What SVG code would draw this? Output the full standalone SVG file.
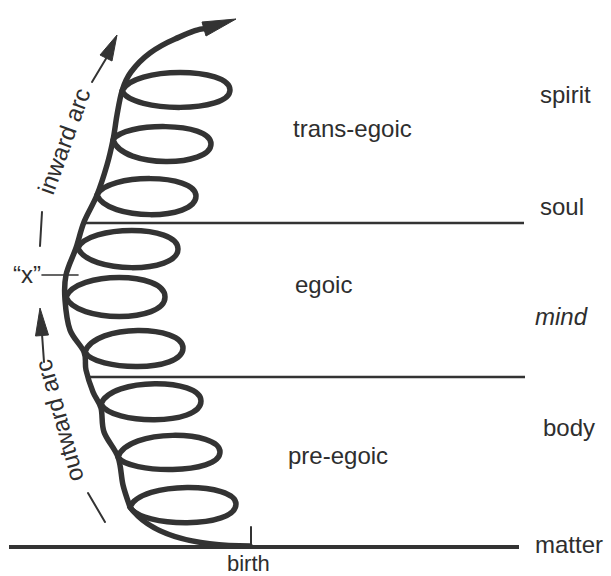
<svg xmlns="http://www.w3.org/2000/svg" width="611" height="576" viewBox="0 0 611 576">
<defs>
<style>
.t{font-family:"Liberation Sans",Arial,Helvetica,sans-serif;font-size:24px;fill:#2e2e2e}
.sp{fill:none;stroke:#333;stroke-width:5.5;stroke-linecap:round;stroke-linejoin:round}
.ln{fill:none;stroke:#333;stroke-width:2.5;stroke-linecap:butt}
.thin{fill:none;stroke:#333;stroke-width:2;stroke-linecap:round}
.ah{fill:#333;stroke:#333;stroke-width:1;stroke-linejoin:round}
</style>
</defs>
<rect width="611" height="576" fill="#fff"/>
<g id="levels">
<line class="ln" x1="82" y1="223" x2="524" y2="223"/>
<line class="ln" x1="87" y1="377" x2="525" y2="377"/>
<line class="ln" x1="9" y1="547" x2="519" y2="547" style="stroke-width:4"/>
<line class="thin" x1="251" y1="527" x2="251" y2="547"/>
</g>
<g id="spiral">
<path class="sp" d="M250,546 C195,546 150,535 130,507"/>
<path class="sp" d="M130,507 C128.8,503.3 125,493.3 123,485 C121,476.7 121.2,465.8 118,457 C114.8,448.2 106.8,440.2 104,432 C101.2,423.8 102.8,414.7 101,408 C99.2,401.3 95.5,398.3 93,392 C90.5,385.7 87.5,376.7 86,370 C84.5,363.3 86.7,358.7 84,352 C81.3,345.3 73.2,338.7 70,330 C66.8,321.3 65.7,309.2 65,300 C64.3,290.8 64.2,283.7 66,275 C67.8,266.3 73,256.8 76,248 C79,239.2 80.5,230.8 84,222 C87.5,213.2 93.2,204.5 97,195 C100.8,185.5 104.3,174.2 107,165 C109.7,155.8 111.3,148.3 113,140 C114.7,131.7 115.5,123.2 117,115 C118.5,106.8 119.8,98.2 122,91 C124.2,83.8 126.3,78.3 131,72 C135.7,65.7 142.5,58.5 150,53 C157.5,47.5 165.8,43 175,39 C184.2,35 200,27.3 205,29"/>
<path class="sp" d="M122,91 C133,66 230,67 230,90 C230,113 133,113 122,91 Z"/>
<path class="sp" d="M113,140 C123,122 211,121 211,144 C211,167 123,169 113,140 Z"/>
<path class="sp" d="M97,195 C107,173 196,173 196,196 C196,221 107,221 97,195 Z"/>
<path class="sp" d="M78,248 C88,225 178,224 178,249 C178,274 88,274 78,248 Z"/>
<path class="sp" d="M66,297 C76,271 165,271 165,297 C165,323 76,323 66,297 Z"/>
<path class="sp" d="M85,352 C95,323 183,325 183,348 C183,373 95,371 85,352 Z"/>
<path class="sp" d="M101,404 C111,377 201,378 201,401 C201,426 111,425 101,404 Z"/>
<path class="sp" d="M118,457 C128,428 220,430 220,452 C220,475 128,474 118,457 Z"/>
<path class="sp" d="M130,507 C141,481 236,482 236,504 C236,529 141,528 130,507 Z"/>
<polygon class="ah" points="236,19 206,36 202,22"/>
</g>
<g id="inward-arc">
<line class="thin" x1="42" y1="212" x2="40" y2="246"/>
<line class="thin" x1="92" y1="82" x2="107" y2="57"/>
<polygon class="ah" points="117,35 112,61 100,55"/>
<text class="t" transform="translate(53,196) rotate(-70)">inward arc</text>
</g>
<g id="outward-arc">
<line class="thin" x1="88" y1="493" x2="105" y2="522"/>
<line class="thin" x1="44" y1="362" x2="42" y2="334"/>
<polygon class="ah" points="40,308 48.5,335 35.5,336"/>
<text class="t" transform="translate(84,479) rotate(-105.5)">outward arc</text>
</g>
<g id="x-mark">
<line class="thin" x1="42" y1="275" x2="78" y2="275" style="stroke-width:1.6"/>
<text class="t" x="13" y="283">“x”</text>
</g>
<g id="zones">
<text class="t" x="293" y="137">trans-egoic</text>
<text class="t" x="295" y="293">egoic</text>
<text class="t" x="288" y="464">pre-egoic</text>
</g>
<g id="levels-labels">
<text class="t" x="540" y="103">spirit</text>
<text class="t" x="540" y="215">soul</text>
<text class="t" x="535" y="325" font-style="italic">mind</text>
<text class="t" x="543" y="436">body</text>
<text class="t" x="535" y="553">matter</text>
<text class="t" x="227" y="571" style="font-size:22px">birth</text>
</g>
</svg>
